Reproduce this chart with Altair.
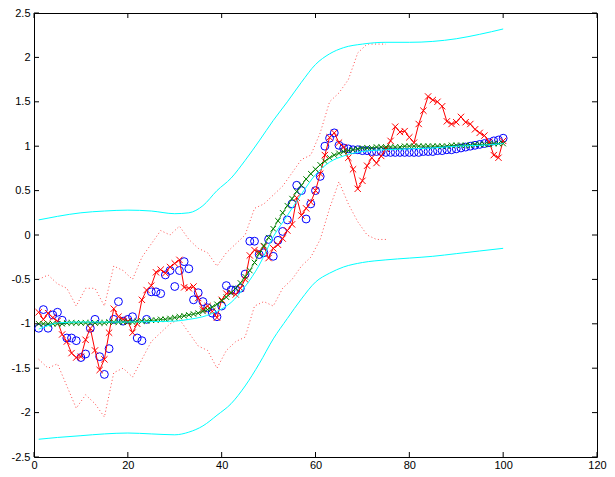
import altair as alt
import pandas as pd

# ---- data ----
x_idx = list(range(1, 101))

red_y = [-0.87, -0.95, -0.88, -0.93, -0.97, -1.12, -1.20, -1.33, -1.38, -1.37,
         -1.18, -1.05, -1.30, -1.52, -1.40, -1.10, -0.83, -0.92, -0.95, -0.97,
         -1.10, -1.00, -0.73, -0.62, -0.57, -0.42, -0.39, -0.43, -0.36, -0.32,
         -0.28, -0.59, -0.60, -0.58, -0.71, -0.84, -0.80, -0.86, -0.93, -0.73,
         -0.66, -0.65, -0.67, -0.60, -0.50, -0.23, -0.17, -0.19, -0.13, -0.26,
         -0.15, -0.11, -0.04, 0.05, 0.12, 0.42, 0.22, 0.30, 0.37, 0.50,
         0.69, 0.90, 1.10, 1.15, 1.04, 0.99, 0.87, 0.74, 0.52, 0.61,
         0.78, 0.87, 0.81, 0.89, 0.97, 1.06, 1.22, 1.16, 1.17, 1.10,
         1.04, 1.25, 1.40, 1.56, 1.52, 1.50, 1.45, 1.28, 1.25, 1.27,
         1.33, 1.27, 1.25, 1.19, 1.15, 1.12, 1.05, 0.90, 0.87, 1.06]

blue_y = [-1.05, -0.84, -1.05, -0.90, -0.87, -0.96, -1.16, -1.16, -1.19, -1.38,
          -1.34, -1.05, -0.95, -1.37, -1.57, -1.28, -0.95, -0.75, -0.97, -0.95,
          -0.92, -1.16, -1.19, -0.95, -0.64, -0.64, -0.66, -0.45, -0.40, -0.58,
          -0.40, -0.30, -0.38, -0.73, -0.65, -0.75, -0.82, -0.88, -0.92, -0.80,
          -0.57, -0.62, -0.62, -0.60, -0.44, -0.07, -0.07, -0.22, -0.20, -0.05,
          -0.24, -0.06, 0.04, 0.17, 0.35, 0.56, 0.50, 0.18, 0.35, 0.50,
          0.66, 1.00, 1.09, 1.15, 1.01, 0.98, 0.97, 0.96, 0.96, 0.95,
          0.95, 0.94, 0.94, 0.94, 0.93, 0.93, 0.93, 0.93, 0.93, 0.93,
          0.93, 0.93, 0.94, 0.94, 0.94, 0.95, 0.95, 0.96, 0.96, 0.97,
          0.98, 0.99, 1.00, 1.01, 1.02, 1.03, 1.04, 1.06, 1.07, 1.09]

green_y = [-1.00, -1.00, -1.00, -1.00, -1.00, -1.00, -0.99, -0.99, -0.99, -0.99,
           -0.99, -0.99, -0.99, -0.99, -0.99, -0.98, -0.98, -0.98, -0.98, -0.98,
           -0.98, -0.97, -0.97, -0.97, -0.96, -0.96, -0.95, -0.95, -0.94, -0.93,
           -0.92, -0.91, -0.90, -0.89, -0.88, -0.86, -0.84, -0.81, -0.78, -0.74,
           -0.70, -0.65, -0.60, -0.54, -0.47, -0.40, -0.31, -0.21, -0.12, -0.03,
           0.07, 0.16, 0.25, 0.33, 0.41, 0.49, 0.56, 0.63, 0.69, 0.74,
           0.79, 0.83, 0.87, 0.90, 0.92, 0.94, 0.95, 0.96, 0.97, 0.98,
           0.98, 0.98, 0.99, 0.99, 0.99, 0.99, 0.99, 0.99, 1.00, 1.00,
           1.00, 1.00, 1.00, 1.00, 1.00, 1.00, 1.00, 1.00, 1.01, 1.01,
           1.01, 1.01, 1.01, 1.02, 1.02, 1.02, 1.02, 1.03, 1.03, 1.03]

cyan_x = [1, 3, 5, 10, 15, 20, 25, 30, 33, 36, 39, 42, 45, 48, 51, 54, 57, 60,
          63, 66, 70, 75, 80, 85, 90, 95, 100]
cyan_mid = [-1.06, -1.02, -0.99, -0.98, -0.98, -0.98, -0.975, -0.97, -0.95, -0.92,
            -0.86, -0.76, -0.58, -0.34, -0.02, 0.22, 0.46, 0.68, 0.82, 0.89,
            0.94, 0.96, 0.97, 0.98, 1.00, 1.01, 1.03]
cyan_up = [0.17, 0.19, 0.21, 0.25, 0.27, 0.28, 0.27, 0.24, 0.25, 0.33,
           0.50, 0.64, 0.84, 1.06, 1.29, 1.50, 1.72, 1.92, 2.04, 2.11,
           2.15, 2.17, 2.17, 2.18, 2.21, 2.26, 2.32]
cyan_lo = [-2.30, -2.29, -2.28, -2.26, -2.24, -2.23, -2.24, -2.25, -2.22, -2.15,
           -2.03, -1.90, -1.70, -1.45, -1.17, -0.94, -0.72, -0.53, -0.43, -0.36,
           -0.31, -0.28, -0.26, -0.24, -0.21, -0.18, -0.15]

dot_x = [1, 3, 5, 7, 9, 11, 13, 15, 17, 19, 21, 23, 25, 27, 29, 31, 33, 35, 37,
         39, 41, 43, 45, 47, 49, 51, 53, 55, 57, 59, 61, 63, 65, 67, 69, 71, 73, 75]
dot_up = [-0.50, -0.45, -0.55, -0.60, -0.80, -0.60, -0.60, -0.80, -0.35, -0.40,
          -0.50, -0.25, -0.10, 0.05, 0.00, 0.10, -0.05, -0.15, -0.20, -0.35,
          -0.20, -0.10, 0.00, 0.30, 0.35, 0.45, 0.55, 0.70, 0.85, 0.90,
          1.15, 1.50, 1.60, 1.75, 2.05, 2.15, 2.15, 2.15]
dot_lo = [-1.40, -1.50, -1.45, -1.70, -1.95, -1.80, -1.90, -2.05, -1.55, -1.50,
          -1.60, -1.40, -1.20, -1.10, -1.00, -0.95, -1.10, -1.25, -1.30, -1.50,
          -1.30, -1.20, -1.15, -0.80, -0.75, -0.80, -0.60, -0.50, -0.35, -0.25,
          -0.05, 0.30, 0.60, 0.35, 0.15, 0.00, -0.05, -0.05]

x_ticks = [0, 20, 40, 60, 80, 100, 120]
y_ticks = [-2.5, -2, -1.5, -1, -0.5, 0, 0.5, 1, 1.5, 2, 2.5]

# ---- chart ----
W, H = 563, 444
FONT = "Liberation Sans"
XMARK = "M-1,-1L1,1M-1,1L1,-1"

xs = alt.Scale(domain=[0, 120], nice=False, zero=False)
ys = alt.Scale(domain=[-2.5, 2.5], nice=False, zero=False)

main_df = pd.DataFrame({"x": x_idx, "red": red_y, "blue": blue_y, "green": green_y})
cyan_df = pd.DataFrame({"x": cyan_x, "mid": cyan_mid, "up": cyan_up, "lo": cyan_lo})
dot_df = pd.DataFrame({"x": dot_x, "up": dot_up, "lo": dot_lo})
xt_df = pd.DataFrame({"v": x_ticks})
yt_df = pd.DataFrame({"v": y_ticks})

xaxis = alt.Axis(values=x_ticks, format="d", ticks=False, domain=False, grid=False,
                 title=None, labelFont=FONT, labelFontSize=11, labelColor="black",
                 labelPadding=2, labelFlush=False)
yaxis = alt.Axis(values=y_ticks, ticks=False, domain=False, grid=False, title=None,
                 labelFont=FONT, labelFontSize=11, labelColor="black", labelPadding=4,
                 labelFlush=False, labelExpr="'' + datum.value")


def X(col="x"):
    return alt.X(f"{col}:Q", scale=xs, axis=xaxis, title=None)


def Y(col):
    return alt.Y(f"{col}:Q", scale=ys, axis=yaxis, title=None)


blue = alt.Chart(main_df).mark_point(shape="circle", filled=False, color="#0000FF",
                                     size=62, strokeWidth=1, opacity=1).encode(
    x=X(), y=Y("blue"))

dots = []
for col in ["up", "lo"]:
    dots.append(alt.Chart(dot_df).mark_line(color="#FF0000", strokeWidth=1,
                                            strokeDash=[1, 2.5], opacity=0.7).encode(
        x=X(), y=Y(col)))

red_line = alt.Chart(main_df).mark_line(color="#FF0000", strokeWidth=1).encode(
    x=X(), y=Y("red"))
red_pts = alt.Chart(main_df).mark_point(shape=XMARK, filled=False, color="#FF0000",
                                        size=40, strokeWidth=1, opacity=1).encode(
    x=X(), y=Y("red"))

green_line = alt.Chart(main_df).mark_line(color="#008000", strokeWidth=0.8).encode(
    x=X(), y=Y("green"))
green_pts = alt.Chart(main_df).mark_point(shape=XMARK, filled=False, color="#008000",
                                          size=30, strokeWidth=1, opacity=1).encode(
    x=X(), y=Y("green"))

cyans = []
for col in ["mid", "up", "lo"]:
    cyans.append(alt.Chart(cyan_df).mark_line(color="#00FFFF", strokeWidth=1,
                                              interpolate="monotone").encode(
        x=X(), y=Y(col)))

TL = 5
bt = alt.Chart(xt_df).mark_rule(color="black", strokeWidth=1).encode(
    x=X("v"), y=alt.value(H), y2=alt.value(H - TL))
tt = alt.Chart(xt_df).mark_rule(color="black", strokeWidth=1).encode(
    x=X("v"), y=alt.value(0), y2=alt.value(TL))
lt = alt.Chart(yt_df).mark_rule(color="black", strokeWidth=1).encode(
    y=Y("v"), x=alt.value(0), x2=alt.value(TL))
rt = alt.Chart(yt_df).mark_rule(color="black", strokeWidth=1).encode(
    y=Y("v"), x=alt.value(W), x2=alt.value(W - TL))

chart = alt.layer(
    blue, *dots, red_line, red_pts, green_line, green_pts, *cyans,
    bt, tt, lt, rt,
).properties(
    width=W, height=H,
    autosize=alt.AutoSizeParams(type="none"),
    padding={"left": 26, "top": 5, "right": 10, "bottom": 12},
    background="white",
).configure_view(stroke="black", strokeWidth=1)

chart.save("out.html", embed_options={"renderer": "svg", "actions": False})
